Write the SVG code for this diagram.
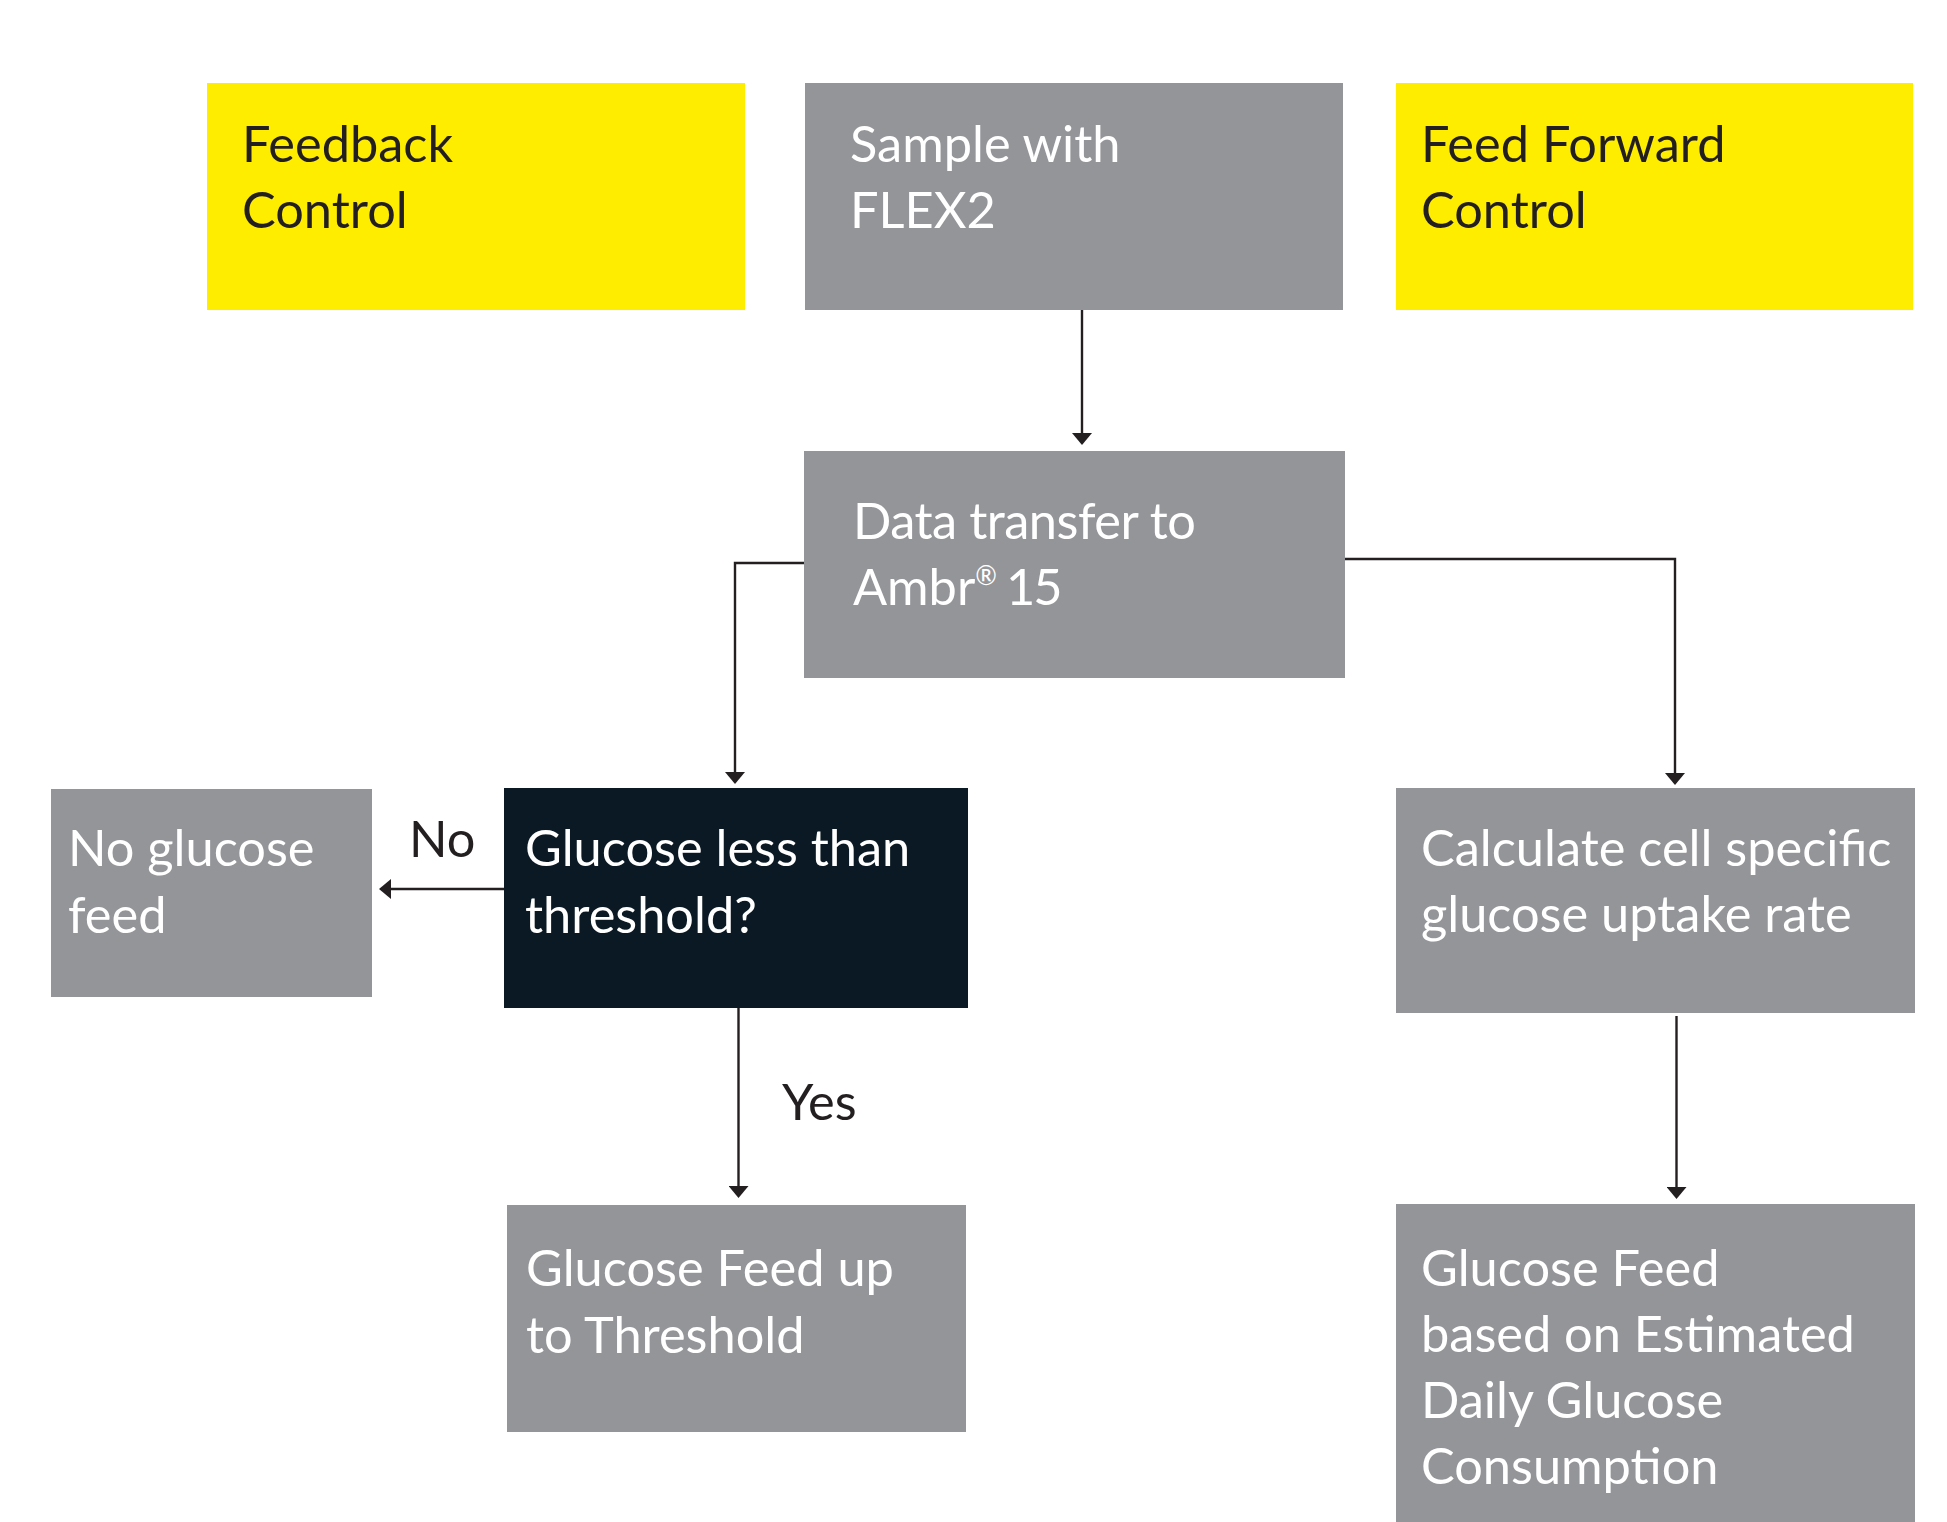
<svg xmlns="http://www.w3.org/2000/svg" width="1947" height="1522" viewBox="0 0 1947 1522">
<style>
.y{fill:#FFED00}
.g{fill:#949599}
.d{fill:#0A1923}
text{font-family:Lato,"Noto Sans","Liberation Sans",sans-serif;font-size:50.5px}
.tw{fill:#FFFFFF}
.tk{fill:#231F20}
.c{fill:none;stroke:#231F20;stroke-width:2.4}
</style>
<defs>
<marker id="ah" viewBox="0 0 12 20" refX="0" refY="10" markerWidth="12" markerHeight="20" markerUnits="userSpaceOnUse" orient="auto">
<path d="M0,0 L12,10 L0,20 z" fill="#231F20"/>
</marker>
</defs>
<rect width="1947" height="1522" fill="#FFFFFF"/>
<g id="feedback-control">
<rect class="y" x="207" y="83" width="538" height="227"/>
<text class="tk" x="242" y="162">Feedback</text>
<text class="tk" x="242" y="228">Control</text>
</g>
<g id="sample-flex2">
<rect class="g" x="805" y="83" width="538" height="227"/>
<text class="tw" x="850" y="162">Sample with</text>
<text class="tw" x="850" y="228">FLEX2</text>
</g>
<g id="feed-forward-control">
<rect class="y" x="1396" y="83" width="517" height="227"/>
<text class="tk" x="1421" y="162">Feed Forward</text>
<text class="tk" x="1421" y="228">Control</text>
</g>
<g id="data-transfer">
<rect class="g" x="804" y="451" width="541" height="227"/>
<text class="tw" x="853" y="539" letter-spacing="-0.5">Data transfer to</text>
<text class="tw" x="853" y="605">Ambr<tspan font-size="26" dy="-20">®</tspan><tspan dx="9" dy="20" letter-spacing="-2">15</tspan></text>
</g>
<g id="no-glucose-feed">
<rect class="g" x="51" y="789" width="321" height="208"/>
<text class="tw" x="68" y="866">No glucose</text>
<text class="tw" x="68" y="933">feed</text>
</g>
<g id="glucose-less-than-threshold">
<rect class="d" x="504" y="788" width="464" height="220"/>
<text class="tw" x="525" y="866">Glucose less than</text>
<text class="tw" x="525" y="933">threshold?</text>
</g>
<g id="calculate-uptake">
<rect class="g" x="1396" y="788" width="519" height="225"/>
<text class="tw" x="1421" y="866">Calculate cell specific</text>
<text class="tw" x="1421" y="932">glucose uptake rate</text>
</g>
<g id="glucose-feed-threshold">
<rect class="g" x="507" y="1205" width="459" height="227"/>
<text class="tw" x="526" y="1286">Glucose Feed up</text>
<text class="tw" x="526" y="1353">to Threshold</text>
</g>
<g id="glucose-feed-estimated">
<rect class="g" x="1396" y="1204" width="519" height="318"/>
<text class="tw" x="1421" y="1286">Glucose Feed</text>
<text class="tw" x="1421" y="1352">based on Estimated</text>
<text class="tw" x="1421" y="1418">Daily Glucose</text>
<text class="tw" x="1421" y="1484">Consumption</text>
</g>
<g id="connectors">
<path class="c" d="M1082,310 V433" marker-end="url(#ah)"/>
<path class="c" d="M804,563 H735 V772" marker-end="url(#ah)"/>
<path class="c" d="M1345,559 H1675 V773" marker-end="url(#ah)"/>
<path class="c" d="M504,889 H391" marker-end="url(#ah)"/>
<path class="c" d="M738.5,1008 V1186" marker-end="url(#ah)"/>
<path class="c" d="M1676.5,1016 V1187" marker-end="url(#ah)"/>
<text class="tk" x="409" y="857">No</text>
<text class="tk" x="782" y="1120">Yes</text>
</g>
</svg>
